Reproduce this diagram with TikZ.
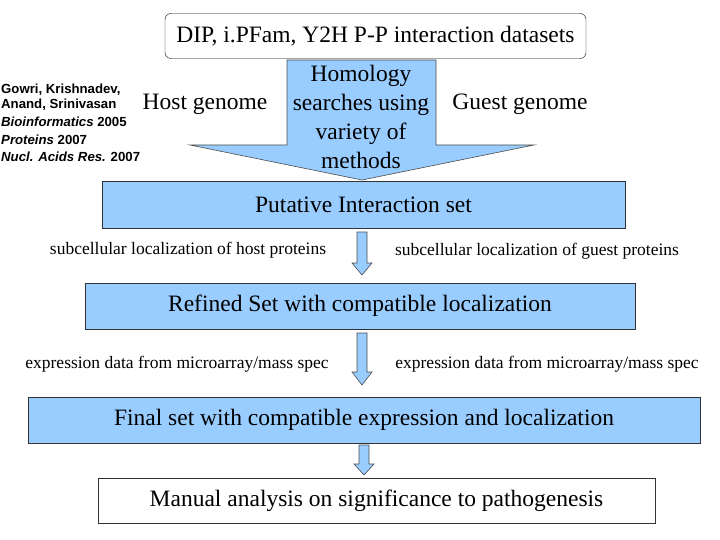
\documentclass[tikz,border=0pt]{standalone}
\usepackage{fontspec}
\setmainfont{Liberation Serif}
\newfontfamily\arialf{Liberation Sans}
\definecolor{lb}{RGB}{153,204,255}
\begin{document}
\begin{tikzpicture}[x=1pt,y=-1pt,
  bx/.style={draw=black!80,fill=lb,line width=0.8pt,inner sep=0},
  big/.style={font=\fontsize{23.5}{29}\selectfont},
  ar/.style={draw=black!70,fill=lb,line width=0.6pt},
  lbl/.style={font=\fontsize{17.5}{20}\selectfont,anchor=center,inner sep=0},
  cit/.style={font=\arialf\bfseries\fontsize{13.2}{16}\selectfont,anchor=west,inner sep=0}]
\useasboundingbox (0,0) rectangle (720,540);
\node[draw=black,rounded corners=6pt,minimum width=421pt,minimum height=45pt,big] (top) at (375.5,36) {DIP, i.PFam, Y2H P-P interaction datasets};
\draw[ar] (287,60) -- (436,60) -- (436,145) -- (534,145) -- (362,180) -- (190,145) -- (287,145) -- cycle;
\node[align=center,big,inner sep=0] (hom) at (361,117) {Homology\\searches using\\variety of\\methods};
\node[big,inner sep=0] (host) at (205,104) {Host genome};
\node[big,inner sep=0] (guest) at (520,104) {Guest genome};
\node[cit] (c1) at (1,90) {Gowri, Krishnadev,};
\node[cit] (c2) at (1,105) {Anand, Srinivasan};
\node[cit] (c3) at (1,122) {\itshape Bioinformatics \upshape 2005};
\node[cit] (c4) at (1,140) {\itshape Proteins \upshape 2007};
\node[cit] (c5) at (1,157) {\itshape Nucl. Acids Res. \upshape 2007};
\node[bx,minimum width=523pt,minimum height=47pt,big] (b1) at (363.5,204.5) {Putative Interaction set};
\node[lbl] (l1) at (188,250) {subcellular localization of host proteins};
\node[lbl] (r1) at (537,251) {subcellular localization of guest proteins};
\draw[ar] (357,232) -- (367,232) -- (367,263) -- (372,263) -- (362,275) -- (352,263) -- (357,263) -- cycle;
\node[bx,minimum width=550pt,minimum height=46pt,big] (b2) at (360,306) {Refined Set with compatible localization};
\node[lbl] (l2) at (177,364) {expression data from microarray/mass spec};
\node[lbl] (r2) at (547,364) {expression data from microarray/mass spec};
\draw[ar] (357,333) -- (367,333) -- (367,372) -- (372,372) -- (362,385) -- (352,372) -- (357,372) -- cycle;
\node[bx,minimum width=672pt,minimum height=46pt,big] (b3) at (364,420) {Final set with compatible expression and localization};
\draw[ar] (359,445) -- (369,445) -- (369,464) -- (374,464) -- (364,475) -- (354,464) -- (359,464) -- cycle;
\node[draw=black!80,line width=0.8pt,minimum width=557pt,minimum height=45pt,big] (b4) at (376.5,500.5) {Manual analysis on significance to pathogenesis};
\end{tikzpicture}
\end{document}
